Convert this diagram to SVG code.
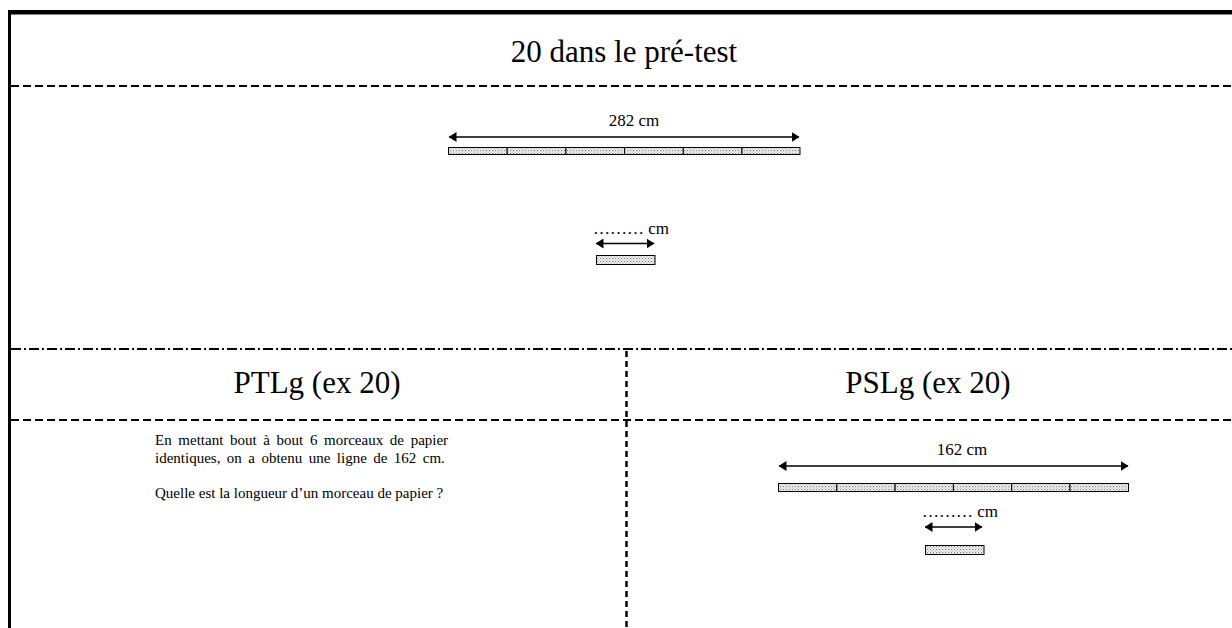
<svg xmlns="http://www.w3.org/2000/svg" width="1232" height="628" viewBox="0 0 1232 628">
<style>
.t{font-family:"Liberation Serif","Times New Roman",serif;fill:#000}
.h{font-size:31px}
.s{font-size:17px}
.p{font-size:15px}
.j1{word-spacing:2.9px}
.j2{word-spacing:2.7px}
.dash{stroke:#000;stroke-width:2;stroke-dasharray:8 4;fill:none}
.dd{stroke:#000;stroke-width:2;stroke-dasharray:10 3 2 3;fill:none}
.arr{stroke:#000;stroke-width:1.3;marker-start:url(#a);marker-end:url(#a)}
.bar{fill:url(#dots);stroke:#000;stroke-width:1}
</style>
<defs>
<pattern id="dots" width="3" height="3" patternUnits="userSpaceOnUse">
<rect width="3" height="3" fill="#fff"/>
<rect x="0" y="0" width="1.2" height="1.2" fill="#777"/>
<rect x="1.5" y="1.5" width="1.2" height="1.2" fill="#999"/>
</pattern>
<marker id="a" viewBox="0 0 8 10" refX="7.5" refY="5" markerWidth="8" markerHeight="10" orient="auto-start-reverse" markerUnits="userSpaceOnUse">
<path d="M0,0 L8,5 L0,10 z" fill="#000"/>
</marker>
</defs>
<rect width="1232" height="628" fill="#fff"/>
<g id="frame">
<rect x="8" y="10" width="1224" height="4.5" fill="#000"/>
<rect x="8" y="10" width="3" height="618" fill="#000"/>
<line class="dash" x1="11" y1="86" x2="1232" y2="86"/>
<line class="dd" x1="11" y1="349" x2="1232" y2="349"/>
<line class="dash" x1="11" y1="420" x2="1232" y2="420"/>
<line x1="626.5" y1="351" x2="626.5" y2="628" stroke="#000" stroke-width="2.5" stroke-dasharray="6 4"/>
</g>
<g id="pretest">
<text class="t h" x="624" y="62" text-anchor="middle">20 dans le pré-test</text>
<text class="t s" x="634" y="126" text-anchor="middle">282 cm</text>
<line class="arr" x1="449" y1="137" x2="799" y2="137"/>
<rect class="bar" x="448.5" y="147.5" width="58.7" height="7"/>
<rect class="bar" x="507.2" y="147.5" width="58.7" height="7"/>
<rect class="bar" x="565.9" y="147.5" width="58.7" height="7"/>
<rect class="bar" x="624.6" y="147.5" width="58.7" height="7"/>
<rect class="bar" x="683.3" y="147.5" width="58.7" height="7"/>
<rect class="bar" x="742" y="147.5" width="58" height="7"/>
<text class="t s" x="593" y="234">……… cm</text>
<line class="arr" x1="596" y1="243.5" x2="654" y2="243.5"/>
<rect class="bar" x="596.5" y="255.5" width="58.5" height="9"/>
</g>
<g id="ptlg">
<text class="t h" x="317" y="393" text-anchor="middle">PTLg (ex 20)</text>
<text class="t p j1" x="155" y="445">En mettant bout à bout 6 morceaux de papier</text>
<text class="t p j2" x="155" y="463">identiques, on a obtenu une ligne de 162 cm.</text>
<text class="t p" x="155" y="498">Quelle est la longueur d’un morceau de papier ?</text>
</g>
<g id="pslg">
<text class="t h" x="928" y="393" text-anchor="middle">PSLg (ex 20)</text>
<text class="t s" x="962" y="455" text-anchor="middle">162 cm</text>
<line class="arr" x1="779" y1="466" x2="1128" y2="466"/>
<rect class="bar" x="778.5" y="483.5" width="58.3" height="8"/>
<rect class="bar" x="836.8" y="483.5" width="58.3" height="8"/>
<rect class="bar" x="895.1" y="483.5" width="58.3" height="8"/>
<rect class="bar" x="953.4" y="483.5" width="58.3" height="8"/>
<rect class="bar" x="1011.7" y="483.5" width="58.3" height="8"/>
<rect class="bar" x="1070" y="483.5" width="58.5" height="8"/>
<text class="t s" x="922" y="517">……… cm</text>
<line class="arr" x1="925" y1="527" x2="982" y2="527"/>
<rect class="bar" x="925.5" y="545.5" width="58.5" height="9"/>
</g>
</svg>
